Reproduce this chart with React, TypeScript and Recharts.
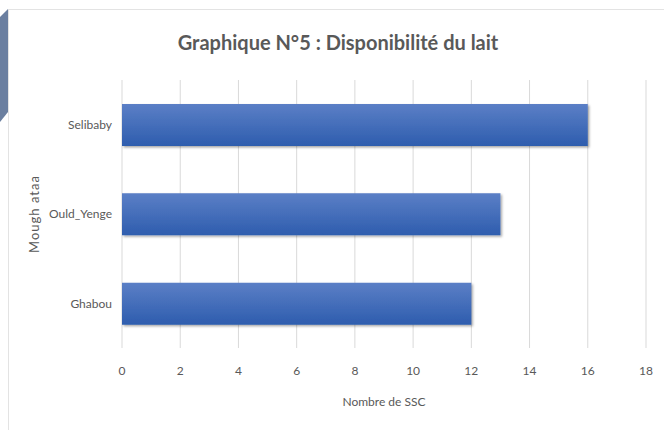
import { Bar, BarChart, CartesianGrid, Label, XAxis, YAxis } from 'recharts'

const categories = ['Selibaby', 'Ould_Yenge', 'Ghabou']
const sscCounts = [16, 13, 12]
const xTicks = [0, 2, 4, 6, 8, 10, 12, 14, 16, 18]

const TEXT_COLOR = '#595959'
const GRID_COLOR = '#d9d9d9'
const FONT = 'Lato, "Open Sans", sans-serif'

const data = categories.map((name, i) => ({ name, value: sscCounts[i] }))

export default function App() {
  return (
    <div style={{ position: 'absolute', left: 0, top: 0, width: 664, height: 430, background: '#fff', fontFamily: FONT }}>
      {/* cadre du graphique */}
      <div
        style={{
          position: 'absolute',
          left: 8,
          top: 9,
          width: 680,
          height: 440,
          borderLeft: '1px solid #e3e3e3',
          borderTop: '1px solid #e3e3e3',
        }}
      />
      {/* bout de forme bleue à gauche */}
      <svg style={{ position: 'absolute', left: 0, top: 0 }} width={10} height={130}>
        <polygon points="0,17 8,9 8,112 0,122" fill="#6b7fa0" />
      </svg>
      <div
        style={{
          position: 'absolute',
          left: 0,
          width: 676,
          top: 30,
          textAlign: 'center',
          fontSize: 20,
          fontWeight: 700,
          color: TEXT_COLOR,
        }}
      >
        Graphique N°5 : Disponibilité du lait
      </div>
      <div style={{ position: 'absolute', left: 0, top: 0 }}>
        <BarChart
          width={664}
          height={430}
          data={data}
          layout="vertical"
          barSize={42}
          margin={{ top: 80, right: 18, bottom: 16, left: 14 }}
        >
          <defs>
            <linearGradient id="barFill" x1="0" y1="0" x2="0" y2="1">
              <stop offset="0%" stopColor="#5b7fc6" />
              <stop offset="100%" stopColor="#2e5dae" />
            </linearGradient>
            <filter id="barShadow" x="-5%" y="-20%" width="110%" height="150%">
              <feDropShadow dx="1.5" dy="1.5" stdDeviation="1.2" floodColor="#000" floodOpacity="0.35" />
            </filter>
          </defs>
          <CartesianGrid horizontal={false} stroke={GRID_COLOR} />
          <XAxis
            type="number"
            domain={[0, 18]}
            ticks={xTicks}
            axisLine={false}
            tickLine={false}
            tickMargin={12}
            height={66}
            tick={{ fill: TEXT_COLOR, fontSize: 12, fontFamily: FONT }}
          >
            <Label
              value="Nombre de SSC"
              position="insideBottom"
              offset={8}
              style={{ fill: TEXT_COLOR, fontSize: 12, fontFamily: FONT }}
            />
          </XAxis>
          <YAxis
            type="category"
            dataKey="name"
            axisLine={false}
            tickLine={false}
            tickMargin={4}
            width={108}
            tick={{ fill: TEXT_COLOR, fontSize: 12, fontFamily: FONT }}
          >
            <Label
              value="Mough ataa"
              angle={-90}
              position="insideLeft"
              offset={20}
              style={{ fill: TEXT_COLOR, fontSize: 13, fontFamily: FONT, textAnchor: 'middle', letterSpacing: 1 }}
            />
          </YAxis>
          <Bar dataKey="value" fill="url(#barFill)" filter="url(#barShadow)" isAnimationActive={false} />
        </BarChart>
      </div>
    </div>
  )
}
